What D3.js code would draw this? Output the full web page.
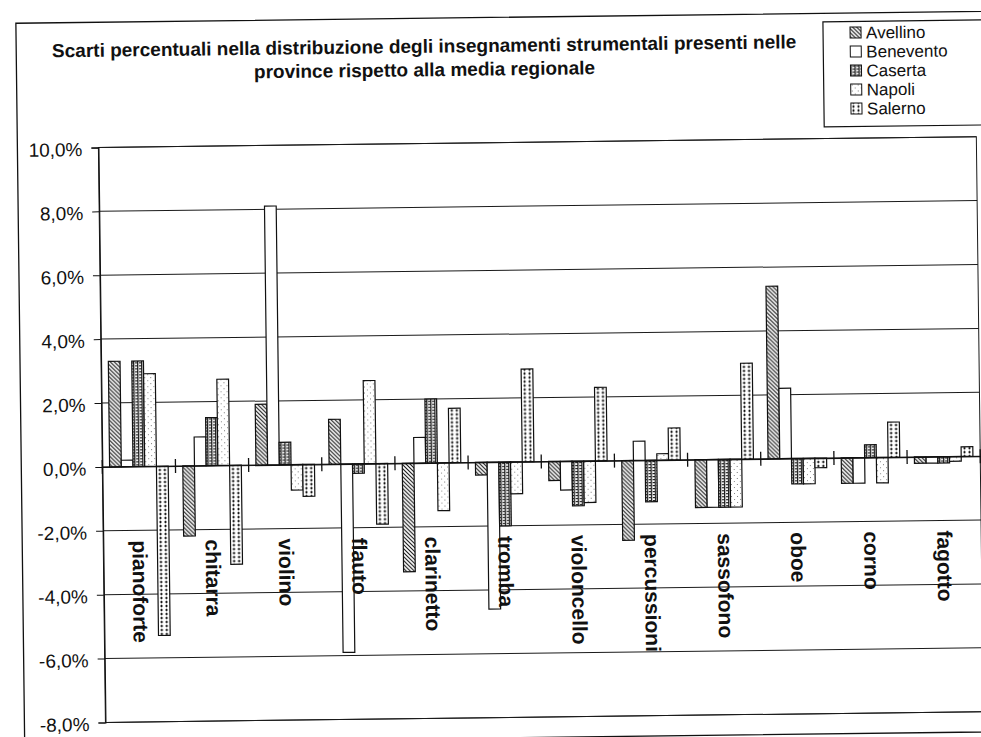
<!DOCTYPE html>
<html>
<head>
<meta charset="utf-8">
<script src="https://cdn.jsdelivr.net/npm/d3@7"></script>
<style>
  html, body { margin: 0; padding: 0; background: #fff; overflow: hidden; }
  svg { display: block; font-family: "Liberation Sans", Arial, Helvetica, sans-serif; }
</style>
</head>
<body>
<svg id="chart" width="981" height="737"></svg>
<script>
// Scarti percentuali (%) per strumento e provincia rispetto alla media regionale
const categories = ["pianoforte", "chitarra", "violino", "flauto", "clarinetto", "tromba",
                    "violoncello", "percussioni", "sassofono", "oboe", "corno", "fagotto"];
const provinces = ["Avellino", "Benevento", "Caserta", "Napoli", "Salerno"];
const avellino  = [ 3.3, -2.2,  1.9,  1.4, -3.4, -0.4, -0.6, -2.5, -1.5,  5.4, -0.8, -0.2];
const benevento = [ 0.2,  0.9,  8.1, -5.9,  0.8, -4.6, -0.9,  0.6, -1.5,  2.2, -0.8, -0.2];
const caserta   = [ 3.3,  1.5,  0.7, -0.3,  2.0, -2.0, -1.4, -1.3, -1.5, -0.8,  0.4, -0.2];
const napoli    = [ 2.9,  2.7, -0.8,  2.6, -1.5, -1.0, -1.3,  0.2, -1.5, -0.8, -0.8, -0.15];
const salerno   = [-5.3, -3.1, -1.0, -1.9,  1.7,  2.9,  2.3,  1.0,  3.0, -0.3,  1.1,  0.3];
const yTicks = [10, 8, 6, 4, 2, 0, -2, -4, -6, -8];
const titleLines = [
  "Scarti percentuali nella distribuzione degli insegnamenti strumentali presenti nelle",
  "province rispetto alla media regionale"
];

const seriesValues = [avellino, benevento, caserta, napoli, salerno];
const rows = categories.map((c, i) => ({
  category: c,
  values: provinces.map((p, j) => ({ province: p, value: seriesValues[j][i] }))
}));

// Italian number format with a plain hyphen for negatives
const it = d3.formatLocale({ decimal: ",", thousands: ".", grouping: [3],
                             currency: ["", " €"], minus: "-" });
const pct = v => it.format(".1f")(v) + "%";

const svg = d3.select("#chart");
const defs = svg.append("defs");

// Fill patterns, one per province
function pattern(id, w, h, draw) {
  const p = defs.append("pattern").attr("id", id)
    .attr("patternUnits", "userSpaceOnUse").attr("width", w).attr("height", h);
  p.append("rect").attr("width", w).attr("height", h).attr("fill", "#fff");
  draw(p);
}
pattern("pAvellino", 4, 4, p => p.append("path")
  .attr("d", "M-1,-1L5,5M-1,3L1,5M3,-1L5,1")
  .attr("stroke", "#111").attr("stroke-width", 1.1));
pattern("pBenevento", 4, 4, () => {});
pattern("pCaserta", 4, 3, p => {
  p.append("rect").attr("x", 0).attr("y", 0).attr("width", 1.3).attr("height", 3).attr("fill", "#1a1a1a");
  p.append("rect").attr("x", 2).attr("y", 1).attr("width", 2).attr("height", 1.2).attr("fill", "#222");
});
pattern("pNapoli", 6, 6, p => {
  p.append("rect").attr("x", 1).attr("y", 1).attr("width", 1).attr("height", 1).attr("fill", "#777");
  p.append("rect").attr("x", 4).attr("y", 4).attr("width", 1).attr("height", 1).attr("fill", "#888");
});
pattern("pSalerno", 5, 4, p => p.append("path")
  .attr("d", "M1.2,2H3.8M2.5,0.8V3.2")
  .attr("stroke", "#111").attr("stroke-width", 1.1));

const fillOf = d3.scaleOrdinal().domain(provinces)
  .range(provinces.map(p => `url(#p${p})`));

// Whole scene is slightly tilted, as on the printed page
const root = svg.append("g").attr("transform", "rotate(-0.7 490 440)");

// Outer chart frame
root.append("rect")
  .attr("x", 21).attr("y", 17.5).attr("width", 1100).attr("height", 720.5)
  .attr("fill", "none").attr("stroke", "#111").attr("stroke-width", 1.3);

// Title: centred lines, set word by word so each tilted piece stays compact
const titleG = root.append("g")
  .attr("font-size", 19).attr("font-weight", "bold").attr("fill", "#111");
const probe = titleG.append("text");
const measure = s => { probe.text(s); return probe.node().getComputedTextLength(); };
const spaceW = measure("a a") - measure("aa");
titleLines.forEach((line, li) => {
  const words = line.split(" ");
  const start = 429 - measure(line) / 2;
  words.forEach((w, wi) => {
    const offset = wi ? measure(words.slice(0, wi).join(" ")) + spaceW : 0;
    titleG.append("text")
      .attr("x", start + offset)
      .attr("y", 52 + li * 23.5)
      .text(w);
  });
});
probe.remove();

// Scales
const plotLeft = 102, plotRight = 980;
const y = d3.scaleLinear().domain([-8, 10]).range([717.7, 142.7]);
const x0 = d3.scaleBand().domain(categories).range([plotLeft, plotRight]).padding(0);
const bw = x0.bandwidth();
const x1 = d3.scaleBand().domain(provinces).range([bw * 0.1, bw * 0.9]).padding(0);

// Gridlines
root.append("g").selectAll("line").data(yTicks).join("line")
  .attr("x1", plotLeft).attr("x2", plotRight)
  .attr("y1", d => y(d)).attr("y2", d => y(d))
  .attr("stroke", "#1a1a1a").attr("stroke-width", 1);

// Plot border
root.append("rect")
  .attr("x", plotLeft).attr("y", y(10))
  .attr("width", plotRight - plotLeft).attr("height", y(-8) - y(10))
  .attr("fill", "none").attr("stroke", "#1a1a1a").attr("stroke-width", 1);

// Value axis
const yAxis = d3.axisLeft(y).tickValues(yTicks).tickSize(7).tickPadding(9).tickFormat(pct);
const yg = root.append("g").attr("transform", `translate(${plotLeft},0)`).call(yAxis);
yg.select(".domain").attr("stroke", "#111").attr("stroke-width", 1.2);
yg.selectAll(".tick line").attr("stroke", "#111");
yg.selectAll(".tick text")
  .attr("font-size", 19).attr("fill", "#111")
  .attr("font-family", "'Liberation Sans', Arial, sans-serif")
  .attr("dy", "0.42em");

// Bars
const groups = root.append("g").selectAll("g").data(rows).join("g")
  .attr("transform", d => `translate(${x0(d.category)},0)`);
groups.selectAll("rect").data(d => d.values).join("rect")
  .attr("x", d => x1(d.province))
  .attr("width", x1.bandwidth())
  .attr("y", d => y(Math.max(0, d.value)))
  .attr("height", d => Math.abs(y(d.value) - y(0)))
  .attr("fill", d => fillOf(d.province))
  .attr("stroke", "#111").attr("stroke-width", 1.2);

// Category axis on the zero line: cross ticks at band edges
const xAxis = d3.axisBottom(x0).tickValues([]).tickSizeOuter(0);
const xg = root.append("g").attr("transform", `translate(0,${y(0)})`).call(xAxis);
xg.select(".domain").attr("stroke", "#111").attr("stroke-width", 1.2);
const edges = d3.range(categories.length + 1).map(i => plotLeft + i * bw);
root.append("g").selectAll("line").data(edges).join("line")
  .attr("x1", d => d).attr("x2", d => d)
  .attr("y1", y(0) - 7).attr("y2", y(0) + 7)
  .attr("stroke", "#111").attr("stroke-width", 1.3);

// Category labels, vertical, below the axis
root.append("g").selectAll("text").data(categories).join("text")
  .attr("transform", d => `translate(${x0(d) + bw / 2},536) rotate(90)`)
  .attr("dy", "0.35em")
  .attr("font-size", 21).attr("font-weight", "bold").attr("fill", "#111")
  .text(d => d);

// Legend
const legend = root.append("g").attr("transform", "translate(828,26)");
legend.append("rect").attr("width", 160).attr("height", 105)
  .attr("fill", "#fff").attr("stroke", "#111").attr("stroke-width", 1.2);
const items = legend.selectAll("g").data(provinces).join("g")
  .attr("transform", (d, i) => `translate(27,${11 + i * 19})`);
items.append("rect").attr("x", 0).attr("y", -5.5).attr("width", 11).attr("height", 11)
  .attr("fill", d => fillOf(d)).attr("stroke", "#111").attr("stroke-width", 1);
items.append("text").attr("x", 16).attr("dy", "0.36em")
  .attr("font-size", 17).attr("fill", "#111").text(d => d);
</script>
</body>
</html>
